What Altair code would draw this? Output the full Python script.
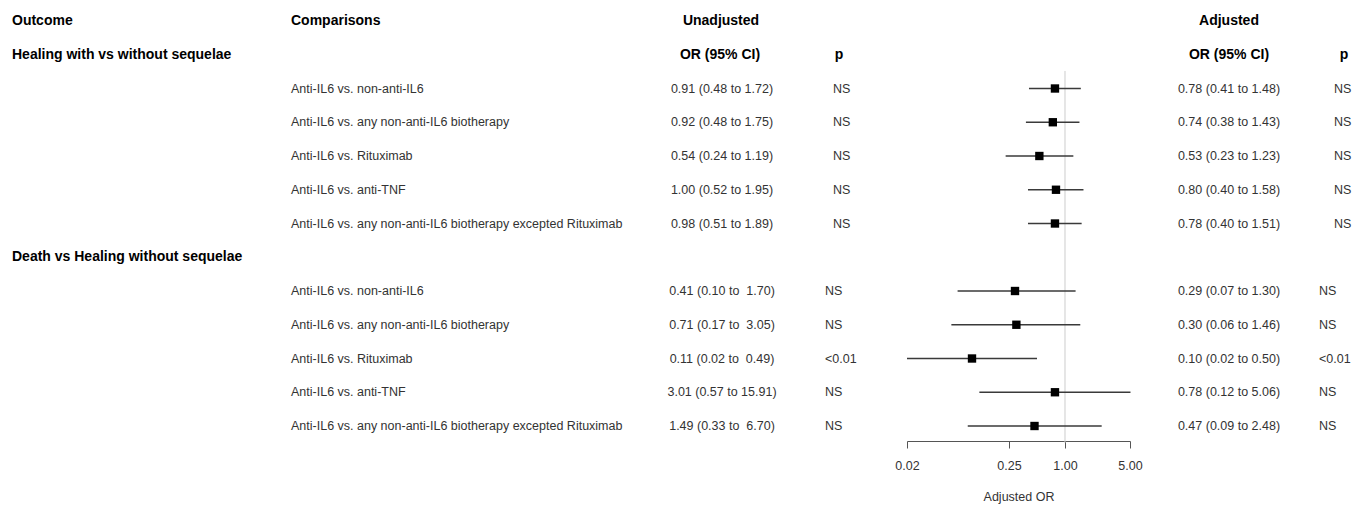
import altair as alt
import pandas as pd

outcomes = ["Healing with vs without sequelae", "Death vs Healing without sequelae"]
comparisons = [
    "Anti-IL6 vs. non-anti-IL6",
    "Anti-IL6 vs. any non-anti-IL6 biotherapy",
    "Anti-IL6 vs. Rituximab",
    "Anti-IL6 vs. anti-TNF",
    "Anti-IL6 vs. any non-anti-IL6 biotherapy excepted Rituximab",
]
unadj_or = [[0.91, 0.92, 0.54, 1.00, 0.98], [0.41, 0.71, 0.11, 3.01, 1.49]]
unadj_lo = [[0.48, 0.48, 0.24, 0.52, 0.51], [0.10, 0.17, 0.02, 0.57, 0.33]]
unadj_hi = [[1.72, 1.75, 1.19, 1.95, 1.89], [1.70, 3.05, 0.49, 15.91, 6.70]]
unadj_p = [["NS", "NS", "NS", "NS", "NS"], ["NS", "NS", "<0.01", "NS", "NS"]]
adj_or = [[0.78, 0.74, 0.53, 0.80, 0.78], [0.29, 0.30, 0.10, 0.78, 0.47]]
adj_lo = [[0.41, 0.38, 0.23, 0.40, 0.40], [0.07, 0.06, 0.02, 0.12, 0.09]]
adj_hi = [[1.48, 1.43, 1.23, 1.58, 1.51], [1.30, 1.46, 0.50, 5.06, 2.48]]
adj_p = [["NS", "NS", "NS", "NS", "NS"], ["NS", "NS", "<0.01", "NS", "NS"]]
axis_ticks = [0.02, 0.25, 1.00, 5.00]

NBSP = "\u00a0"
rows = []
for g in range(2):
    for i in range(5):
        if g == 0:
            u = f"{unadj_or[g][i]:.2f} ({unadj_lo[g][i]:.2f} to {unadj_hi[g][i]:.2f})"
        else:
            hi = f"{unadj_hi[g][i]:5.2f}".replace(" ", NBSP)
            u = f"{unadj_or[g][i]:.2f} ({unadj_lo[g][i]:.2f} to {hi})"
        a = f"{adj_or[g][i]:.2f} ({adj_lo[g][i]:.2f} to {adj_hi[g][i]:.2f})"
        rows.append(dict(row=2 + g * 6 + i, group=g, comp=comparisons[i],
                         uor=u, up=unadj_p[g][i], aor=a, ap=adj_p[g][i],
                         est=adj_or[g][i], lo=adj_lo[g][i], hi=adj_hi[g][i]))
df = pd.DataFrame(rows)
g1 = df[df.group == 0]
g2 = df[df.group == 1]

FONT = "Liberation Sans"
yscale = alt.Scale(domain=[0, 12], range=[13, 418])
Y = alt.Y("row:Q", scale=yscale, axis=None)


def txt(data, field, x, align="left", bold=False, size=12.5, color="#333333"):
    return alt.Chart(data).mark_text(
        align=align, baseline="middle", font=FONT, fontSize=size,
        fontWeight="bold" if bold else "normal", color=color
    ).encode(x=alt.value(x), y=Y, text=f"{field}:N")


hdr0 = pd.DataFrame({"row": [0], "t1": ["Outcome"], "t2": ["Comparisons"],
                     "t3": ["Unadjusted"], "t4": ["Adjusted"]})
hdr1 = pd.DataFrame({"row": [1], "or": ["OR (95% CI)"], "p": ["p"]})
grp = pd.DataFrame({"row": [1, 7], "name": outcomes})

layers = [
    txt(hdr0, "t1", 4, bold=True, size=14, color="black"),
    txt(hdr0, "t2", 283, bold=True, size=14, color="black"),
    txt(hdr0, "t3", 713, align="center", bold=True, size=14, color="black"),
    txt(hdr0, "t4", 1221, align="center", bold=True, size=14, color="black"),
    txt(hdr1, "or", 712, align="center", bold=True, size=14, color="black"),
    txt(hdr1, "p", 831, align="center", bold=True, size=14, color="black"),
    txt(hdr1, "or", 1221, align="center", bold=True, size=14, color="black"),
    txt(hdr1, "p", 1336, align="center", bold=True, size=14, color="black"),
    txt(grp, "name", 4, bold=True, size=14, color="black"),
    txt(df, "comp", 283),
    txt(df, "uor", 714, align="center"),
    txt(g1, "up", 825),
    txt(g2, "up", 817),
    txt(df, "aor", 1221, align="center"),
    txt(g1, "ap", 1326),
    txt(g2, "ap", 1311),
]

xscale = alt.Scale(type="log", domain=[0.02, 5], range=[899, 1122], nice=False)
xaxis = alt.Axis(values=axis_ticks, format=".2f", title="Adjusted OR",
                 grid=False, tickSize=7, labelPadding=11, titlePadding=19,
                 labelFlush=False,
                 domainColor="#555555", tickColor="#555555",
                 labelFont=FONT, titleFont=FONT, labelFontSize=12.5,
                 titleFontSize=12.5, titleFontWeight="normal",
                 labelColor="#333333", titleColor="#333333")

refdf = pd.DataFrame({"est": [1.0], "r1": [1.48], "r2": [12.5]})
ref = alt.Chart(refdf).mark_rule(color="#cccccc", strokeWidth=1).encode(
    x=alt.X("est:Q", scale=xscale, axis=xaxis),
    y=alt.Y("r1:Q", scale=yscale, axis=None), y2="r2:Q")

ci = alt.Chart(df).mark_rule(color="#3a3a3a", strokeWidth=1.4).encode(
    x=alt.X("lo:Q", scale=xscale, axis=xaxis), x2="hi:Q", y=Y)
pts = alt.Chart(df).mark_square(color="black", size=70, opacity=1).encode(
    x=alt.X("est:Q", scale=xscale, axis=xaxis), y=Y)

chart = alt.layer(ref, ci, pts, *layers).properties(
    width=1344, height=433,
    autosize=alt.AutoSizeParams(type="none"),
    padding={"left": 0, "top": 0, "right": 0, "bottom": 64},
).configure_view(stroke=None)

chart.save("out.html", embed_options={"renderer": "svg", "actions": False})
